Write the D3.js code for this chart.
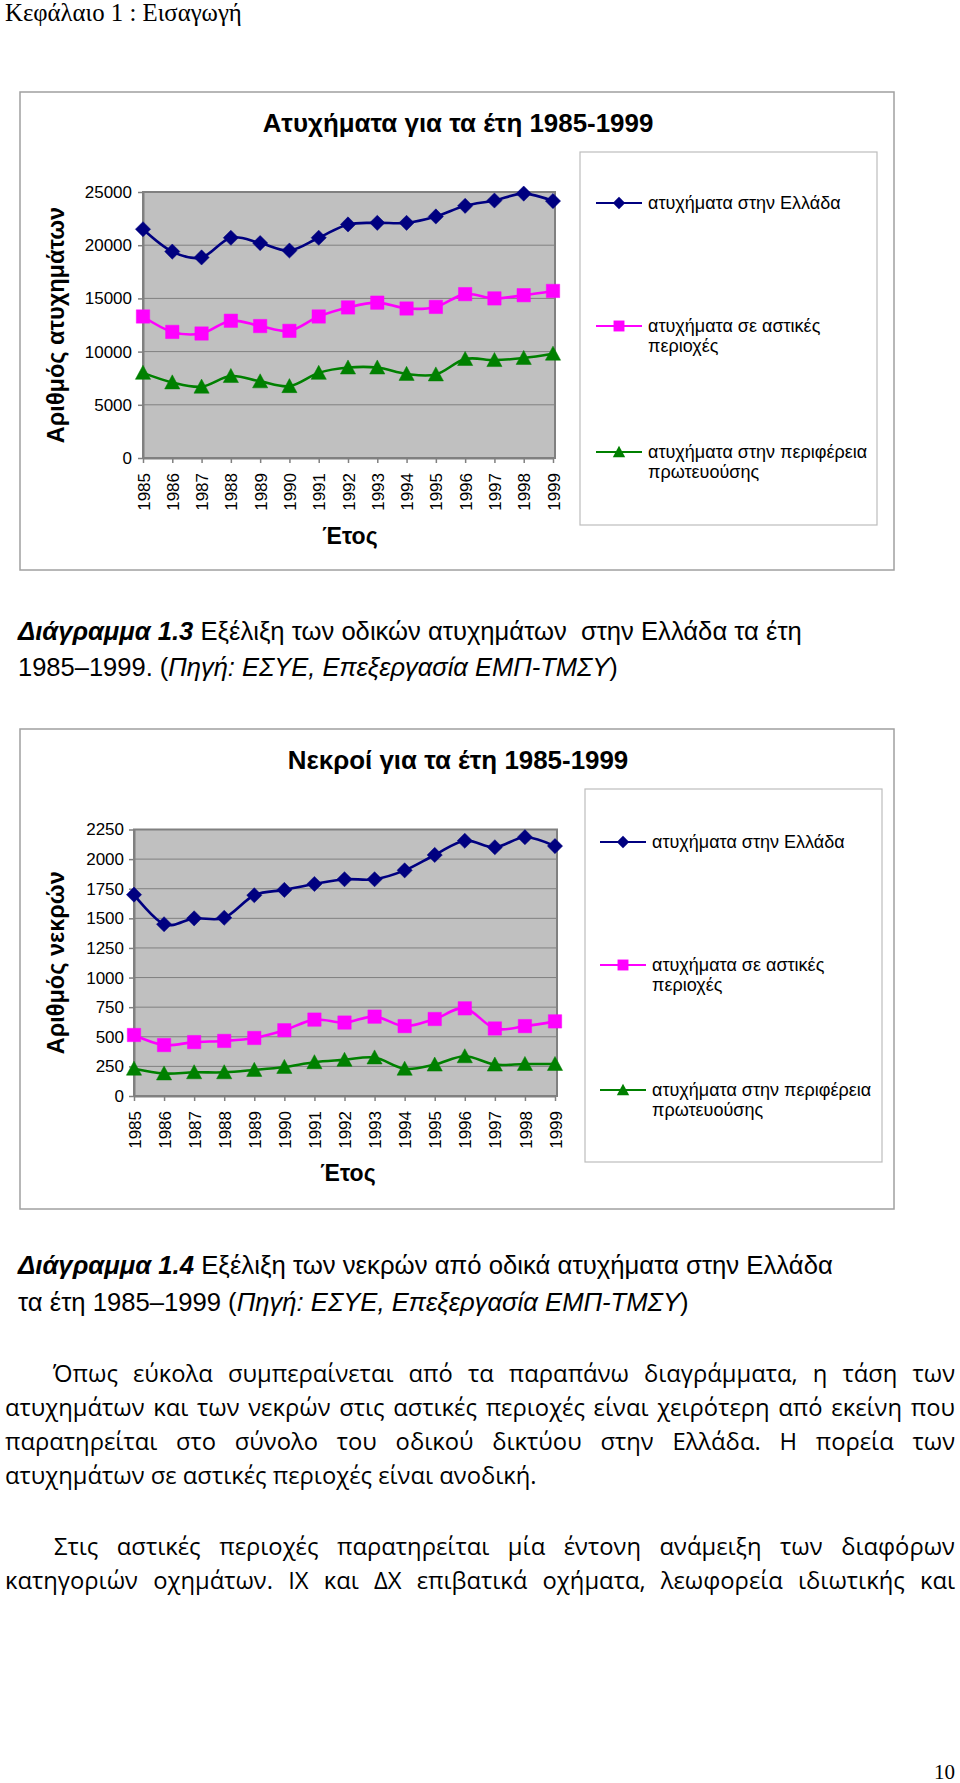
<!DOCTYPE html>
<html><head><meta charset="utf-8">
<script src="https://cdn.jsdelivr.net/npm/d3@7"></script>
<style>
body{margin:0;background:#fff;}
svg{display:block;}
text{white-space:pre;}
</style></head><body>
<svg id="page" width="960" height="1783"></svg>
<script>
// ---------- DATA ----------
const years = [1985,1986,1987,1988,1989,1990,1991,1992,1993,1994,1995,1996,1997,1998,1999];
const accGreece = [21500,19400,18850,20700,20200,19500,20700,21950,22100,22100,22700,23700,24200,24850,24150];
const accUrban  = [13300,11850,11700,12900,12400,11950,13300,14150,14600,14050,14200,15400,15000,15300,15700];
const accAttica = [8000,7100,6700,7700,7200,6750,8000,8500,8500,7900,7850,9300,9200,9400,9800];
const deathsGreece = [1700,1450,1500,1505,1695,1740,1790,1830,1830,1905,2035,2155,2100,2185,2110];
const deathsUrban  = [515,430,455,465,490,555,645,620,670,590,650,740,570,590,630];
const deathsAttica = [230,190,200,200,220,245,285,305,325,230,265,335,265,270,270];
const accTicks = [0,5000,10000,15000,20000,25000];
const deathTicks = [0,250,500,750,1000,1250,1500,1750,2000,2250];
const legendLabels = [["ατυχήματα στην Ελλάδα"],["ατυχήματα σε αστικές","περιοχές"],["ατυχήματα στην περιφέρεια","πρωτευούσης"]];
const seriesColors = ["#000080","#ff00ff","#008000"];
const seriesShapes = ["diamond","square","triangle"];

// ---------- PAGE ----------
const SANS = "'Liberation Sans', Arial, sans-serif";
const SERIF = "'Liberation Serif', 'Times New Roman', serif";
const BODY = "'Open Sans', 'Noto Sans', sans-serif";
const svg = d3.select("#page");
svg.append("rect").attr("width",960).attr("height",1783).attr("fill","#fff");

function fitFont(t, target){
  const w = t.node().getComputedTextLength();
  t.attr("font-size", parseFloat(t.attr("font-size"))*target/w);
}

// header
const hdr = svg.append("text").attr("x",5).attr("y",21).attr("font-family",SERIF).attr("font-size",22).text("Κεφάλαιο 1 : Εισαγωγή");
fitFont(hdr, 237);

function markerPath(shape, r){
  const p = d3.path();
  if(shape==="diamond"){ p.moveTo(0,-r); p.lineTo(r,0); p.lineTo(0,r); p.lineTo(-r,0); p.closePath(); }
  else if(shape==="square"){ const s=r*0.88; p.rect(-s,-s,2*s,2*s); }
  else { p.moveTo(0,-r); p.lineTo(r,r*0.85); p.lineTo(-r,r*0.85); p.closePath(); }
  return p.toString();
}

let titleFs = null;
function drawChart(c){
  const g = svg.append("g");
  g.append("rect").attr("x",c.frame[0]).attr("y",c.frame[1]).attr("width",c.frame[2]).attr("height",c.frame[3])
    .attr("fill","#fff").attr("stroke","#a0a0a0").attr("stroke-width",1.5);
  const x = d3.scalePoint().domain(years).range([c.plot.x0,c.plot.x1]);
  const y = d3.scaleLinear().domain([0,c.ymax]).range([c.plot.y1,c.plot.y0]);

  g.append("rect").attr("x",c.plot.x0).attr("y",c.plot.y0).attr("width",c.plot.x1-c.plot.x0+2).attr("height",c.plot.y1-c.plot.y0)
    .attr("fill","#c0c0c0").attr("stroke","#808080").attr("stroke-width",2);
  g.append("g").selectAll("line").data(c.ticks.filter(t=>t>0&&t<c.ymax)).join("line")
    .attr("x1",c.plot.x0).attr("x2",c.plot.x1+2).attr("y1",d=>y(d)).attr("y2",d=>y(d))
    .attr("stroke","#808080").attr("stroke-width",1);

  const ya = g.append("g").attr("transform",`translate(${c.plot.x0},0)`)
    .call(d3.axisLeft(y).tickValues(c.ticks).tickSize(5).tickSizeOuter(0).tickPadding(c.ypad).tickFormat(d3.format("d")));
  ya.attr("font-family",null).attr("font-size",null);
  ya.select(".domain").attr("stroke","#808080").attr("stroke-width",2);
  ya.selectAll(".tick line").attr("stroke","#808080").attr("stroke-width",1.5);
  ya.selectAll(".tick text").attr("font-family",SANS).attr("font-size",17).attr("fill","#000");

  const xa = g.append("g").attr("transform",`translate(0,${c.plot.y1})`)
    .call(d3.axisBottom(x).tickSize(5).tickSizeOuter(0));
  xa.attr("font-family",null).attr("font-size",null);
  xa.select(".domain").attr("stroke","#808080").attr("stroke-width",2);
  xa.selectAll(".tick line").attr("stroke","#808080").attr("stroke-width",1.5);
  xa.selectAll(".tick text").attr("font-family",SANS).attr("font-size",17).attr("fill","#000")
    .attr("transform","rotate(-90)").attr("text-anchor","end").attr("x",-15).attr("y",0).attr("dy","0.36em");

  // title
  const tt = g.append("text").attr("x",458).attr("y",c.titleY).attr("text-anchor","middle")
    .attr("font-family",SANS).attr("font-weight","bold").attr("font-size",titleFs||24).text(c.title);
  if(!titleFs){ fitFont(tt, 391); titleFs = parseFloat(tt.attr("font-size")); }
  // axis titles
  g.append("text").attr("transform",`translate(${c.ytX},${(c.plot.y0+c.plot.y1)/2}) rotate(-90)`).attr("text-anchor","middle")
    .attr("font-family",SANS).attr("font-weight","bold").attr("font-size",23.5).text(c.ytitle);
  g.append("text").attr("x",c.xtX).attr("y",c.xtY).attr("text-anchor","middle")
    .attr("font-family",SANS).attr("font-weight","bold").attr("font-size",23).text("Έτος");

  // series
  const line = d3.line().x((d,i)=>x(years[i])).y(d=>y(d)).curve(d3.curveCardinal.tension(0));
  c.series.forEach((s,k)=>{
    g.append("path").attr("d",line(s)).attr("fill","none").attr("stroke",seriesColors[k]).attr("stroke-width",2.6);
  });
  c.series.forEach((s,k)=>{
    g.append("g").selectAll("path").data(s).join("path")
      .attr("transform",(d,i)=>`translate(${x(years[i])},${y(d)})`)
      .attr("d",markerPath(seriesShapes[k],7.6)).attr("fill",seriesColors[k]).attr("stroke",seriesColors[k]).attr("stroke-width",0.5);
  });

  // legend
  const L = c.legend;
  g.append("rect").attr("x",L.box[0]).attr("y",L.box[1]).attr("width",L.box[2]).attr("height",L.box[3])
    .attr("fill","#fff").attr("stroke","#bdbdbd").attr("stroke-width",1.2);
  legendLabels.forEach((lab,k)=>{
    const yy = L.ys[k];
    g.append("line").attr("x1",L.x0).attr("x2",L.x0+46).attr("y1",yy).attr("y2",yy).attr("stroke",seriesColors[k]).attr("stroke-width",2.2);
    g.append("path").attr("transform",`translate(${L.x0+23},${yy})`).attr("d",markerPath(seriesShapes[k],6.2)).attr("fill",seriesColors[k]);
    const t = g.append("text").attr("font-family",SANS).attr("font-size",18).attr("fill","#000");
    lab.forEach((s,j)=> t.append("tspan").attr("x",L.x0+52).attr("y",yy+6+j*20).text(s));
  });
}

drawChart({
  frame:[20,92,874,478], plot:{x0:143,x1:553,y0:192,y1:458}, ymax:25000, ticks:accTicks, ypad:6,
  title:"Ατυχήματα για τα έτη 1985-1999", titleY:132,
  ytitle:"Αριθμός ατυχημάτων", ytX:64, xtX:350, xtY:544,
  series:[accGreece,accUrban,accAttica],
  legend:{box:[580,152,297,373], x0:596, ys:[203,326,452]}
});
drawChart({
  frame:[20,729,874,480], plot:{x0:134,x1:555,y0:829.5,y1:1096}, ymax:2250, ticks:deathTicks, ypad:5,
  title:"Νεκροί για τα έτη 1985-1999", titleY:769,
  ytitle:"Αριθμός νεκρών", ytX:64, xtX:348, xtY:1181,
  series:[deathsGreece,deathsUrban,deathsAttica],
  legend:{box:[585,789,297,373], x0:600, ys:[842,965,1090]}
});

// captions
function richLine(parts, x0, y, target, fs){
  const t = svg.append("text").attr("x",x0).attr("y",y).attr("font-family",SANS).attr("font-size",fs).attr("fill","#000");
  parts.forEach(p=> t.append("tspan").attr("font-weight",p.b?"bold":null).attr("font-style",p.i?"italic":null).text(p.t));
  fitFont(t, target);
}
richLine([{t:"Διάγραμμα 1.3",b:1,i:1},{t:" Εξέλιξη των οδικών ατυχημάτων  στην Ελλάδα τα έτη"}], 18, 640, 784, 20);
richLine([{t:"1985–1999. ("},{t:"Πηγή: ΕΣΥΕ, Επεξεργασία ΕΜΠ-ΤΜΣΥ",i:1},{t:")"}], 18, 676, 600, 20);
richLine([{t:"Διάγραμμα 1.4",b:1,i:1},{t:" Εξέλιξη των νεκρών από οδικά ατυχήματα στην Ελλάδα"}], 18, 1274, 815, 20);
richLine([{t:"τα έτη 1985–1999 ("},{t:"Πηγή: ΕΣΥΕ, Επεξεργασία ΕΜΠ-ΤΜΣΥ",i:1},{t:")"}], 18, 1311, 671, 20);

// body text
const meas = svg.append("text").attr("font-family",BODY).attr("font-size",20).text("ατυχημάτων σε αστικές περιοχές είναι ανοδική.");
const bodyFs = 20*532/meas.node().getComputedTextLength();
meas.remove();
function bodyLine(str, x0, x1, y, justify){
  const words = str.split(" ");
  const t = svg.append("text").attr("font-family",BODY).attr("font-size",bodyFs).attr("y",y).attr("fill","#000");
  if(!justify){ t.attr("x",x0).text(str); return; }
  const widths = words.map(w=>{ t.text(w); return t.node().getComputedTextLength(); });
  t.text("");
  const gap = (x1-x0-d3.sum(widths))/(words.length-1);
  let cx = x0;
  words.forEach((w,i)=>{ t.append("tspan").attr("x",cx).text(w); cx += widths[i]+gap; });
}
bodyLine("Όπως εύκολα συμπεραίνεται από τα παραπάνω διαγράμματα, η τάση των", 53, 955, 1382, true);
bodyLine("ατυχημάτων και των νεκρών στις αστικές περιοχές είναι χειρότερη από εκείνη που", 5, 955, 1416, true);
bodyLine("παρατηρείται στο σύνολο του οδικού δικτύου στην Ελλάδα. Η πορεία των", 5, 955, 1450, true);
bodyLine("ατυχημάτων σε αστικές περιοχές είναι ανοδική.", 5, 955, 1484, false);
bodyLine("Στις αστικές περιοχές παρατηρείται μία έντονη ανάμειξη των διαφόρων", 54, 955, 1555, true);
bodyLine("κατηγοριών οχημάτων. ΙΧ και ΔΧ επιβατικά οχήματα, λεωφορεία ιδιωτικής και", 5, 955, 1589, true);

svg.append("text").attr("x",955).attr("y",1779).attr("text-anchor","end").attr("font-family",SERIF).attr("font-size",21).text("10");
</script>
</body></html>
